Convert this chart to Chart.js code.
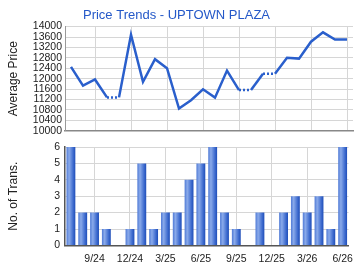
<!DOCTYPE html>
<html>
<head>
<meta charset="utf-8">
<script src="https://cdn.jsdelivr.net/npm/chart.js@4"></script>
<style>
  body { margin: 0; background: #fff; }
  #wrap { position: relative; width: 360px; height: 270px; overflow: hidden; }
  canvas { position: absolute; left: 0; }
</style>
</head>
<body>
<div id="wrap">
  <canvas id="priceChart" width="360" height="140" style="top:0"></canvas>
  <canvas id="transChart" width="360" height="141" style="top:131px"></canvas>
</div>
<script>
const months = ['7/24', '8/24', '9/24', '10/24', '11/24', '12/24', '1/25', '2/25', '3/25', '4/25', '5/25', '6/25',
                '7/25', '8/25', '9/25', '10/25', '11/25', '12/25', '1/26', '2/26', '3/26', '4/26', '5/26', '6/26'];
const avgPrice = [12450, 11730, 11970, 11280, 11280, 13690, 11880, 12750, 12400, 10850, 11170, 11590,
                  11270, 12310, 11560, 11560, 12190, 12190, 12800, 12770, 13420, 13780, 13500, 13500];
const numTrans = [6, 2, 2, 1, 0, 1, 5, 1, 2, 2, 4, 5, 6, 2, 1, 0, 2, 0, 2, 3, 2, 3, 1, 6];
const quarterLabels = ['9/24', '12/24', '3/25', '6/25', '9/25', '12/25', '3/26', '6/26'];

const tickFont = { family: 'Liberation Sans, Arial, sans-serif', size: 10.5 };
const titleFont = { family: 'Liberation Sans, Arial, sans-serif', size: 12 };
const gridColor = '#d6d6d6';
const isQuarter = i => quarterLabels.includes(months[i]);

Chart.defaults.animation = false;
Chart.defaults.color = '#222';

// fixed y axis width so both plots line up
const fixWidth = scale => { scale.width = 65; };

const xGrid = {
    offset: false,
    drawTicks: false,
    color: c => (c.tick && isQuarter(c.index)) ? gridColor : 'rgba(0,0,0,0)'
};

// top: price line
new Chart(document.getElementById('priceChart'), {
    type: 'line',
    data: {
        labels: months,
        datasets: [{
            data: avgPrice,
            borderColor: '#2a5fcc',
            borderWidth: 2.5,
            pointRadius: 0,
            tension: 0,
            segment: {
                // months without a transaction are joined with a dotted line
                borderDash: c => numTrans[c.p1DataIndex] === 0 ? [2, 2] : undefined
            }
        }]
    },
    options: {
        responsive: false,
        layout: { padding: { left: 0, right: 7, top: 0, bottom: 0 } },
        plugins: {
            legend: { display: false },
            tooltip: { enabled: false },
            title: {
                display: true,
                text: 'Price Trends - UPTOWN PLAZA',
                color: '#2458c8',
                font: { family: 'Liberation Sans, Arial, sans-serif', size: 13, weight: 'normal' },
                padding: { top: 8, bottom: 3 }
            }
        },
        scales: {
            x: {
                offset: true,
                grid: xGrid,
                border: { color: '#888', width: 1.5 },
                ticks: { display: false, autoSkip: false }
            },
            y: {
                min: 10000,
                max: 14000,
                afterFit: fixWidth,
                grid: { color: gridColor, drawTicks: false },
                border: { color: '#999' },
                ticks: { stepSize: 400, padding: 3, font: tickFont, autoSkip: false, callback: v => String(v) },
                title: { display: true, text: 'Average Price', font: titleFont, color: '#222', padding: { top: 6, bottom: 0 } }
            }
        }
    }
});

// bar fill: light-to-dark blue across each bar
function barFill(c) {
    const chart = c.chart;
    const xs = chart.scales.x;
    if (!chart.chartArea || !xs || c.dataIndex === undefined) return '#4f7cd8';
    const cx = xs.getPixelForValue(c.dataIndex);
    const half = xs.width / months.length * 0.75 / 2;
    const g = chart.ctx.createLinearGradient(cx - half, 0, cx + half, 0);
    g.addColorStop(0, '#4f7ad6');
    g.addColorStop(0.3, '#8aaaea');
    g.addColorStop(0.75, '#3f6ccf');
    g.addColorStop(1, '#1e4db8');
    return g;
}

// bottom: transactions
new Chart(document.getElementById('transChart'), {
    type: 'bar',
    data: {
        labels: months,
        datasets: [{
            data: numTrans,
            backgroundColor: barFill,
            borderWidth: 0,
            barPercentage: 0.75,
            categoryPercentage: 1
        }]
    },
    options: {
        responsive: false,
        layout: { padding: { left: 0, right: 7, top: 16, bottom: 0 } },
        plugins: {
            legend: { display: false },
            tooltip: { enabled: false }
        },
        scales: {
            x: {
                offset: true,
                grid: xGrid,
                border: { color: '#555', width: 1.5 },
                ticks: {
                    autoSkip: false,
                    maxRotation: 0,
                    padding: 7,
                    font: tickFont,
                    callback: (v, i) => isQuarter(i) ? months[i] : ''
                }
            },
            y: {
                min: 0,
                max: 6,
                afterFit: fixWidth,
                grid: { color: gridColor, drawTicks: false },
                border: { color: '#555', width: 1.5 },
                ticks: { stepSize: 1, padding: 5, font: tickFont, autoSkip: false },
                title: { display: true, text: 'No. of Trans.', font: titleFont, color: '#222', padding: { top: 6, bottom: 0 } }
            }
        }
    }
});
</script>
</body>
</html>
